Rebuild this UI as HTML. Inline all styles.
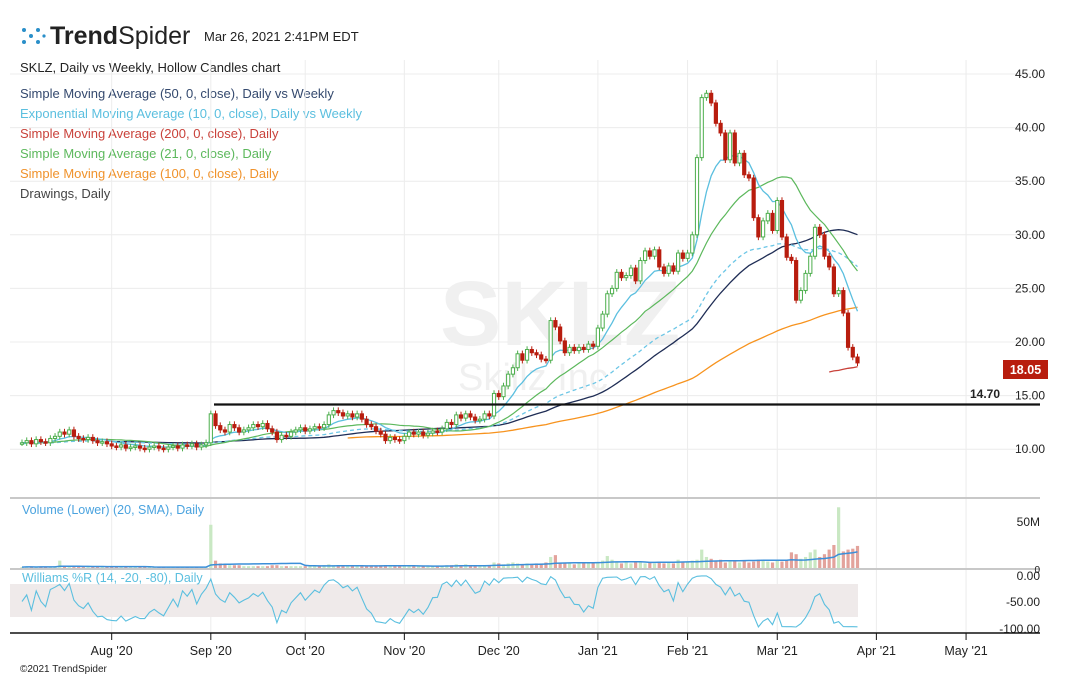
<!DOCTYPE html>
<html><head><meta charset="utf-8"><style>
html,body{margin:0;padding:0;background:#fff;}
svg{display:block;font-family:"Liberation Sans",sans-serif;}
</style></head><body>
<svg id="chart" width="1070" height="679" viewBox="0 0 1070 679" xmlns="http://www.w3.org/2000/svg">
<g>
  <g fill="#2a8fc9">
    <circle cx="24" cy="30" r="2"/><circle cx="31" cy="36" r="2"/><circle cx="24" cy="42" r="2"/><circle cx="38" cy="30" r="2"/><circle cx="38" cy="42" r="2"/><circle cx="44" cy="36" r="1.6"/>
  </g>
  <text x="50" y="44" font-size="25" fill="#222"><tspan font-weight="bold">Trend</tspan>Spider</text>
  <text x="204" y="41" font-size="13" fill="#222">Mar 26, 2021 2:41PM EDT</text>
</g>
<g font-size="13">
  <text x="20" y="72" fill="#222">SKLZ, Daily vs Weekly, Hollow Candles chart</text>
  <text x="20" y="98" fill="#34496e">Simple Moving Average (50, 0, close), Daily vs Weekly</text>
  <text x="20" y="118" fill="#5bbfdf">Exponential Moving Average (10, 0, close), Daily vs Weekly</text>
  <text x="20" y="138" fill="#c9423a">Simple Moving Average (200, 0, close), Daily</text>
  <text x="20" y="158" fill="#5cb85c">Simple Moving Average (21, 0, close), Daily</text>
  <text x="20" y="178" fill="#f0922b">Simple Moving Average (100, 0, close), Daily</text>
  <text x="20" y="198" fill="#444">Drawings, Daily</text>
</g>
<g id="grid"></g>
<g fill="#f0f0f0">
  <text x="440" y="345" font-size="92" font-weight="bold">SKLZ</text>
  <text x="458" y="390" font-size="38">Skillz Inc</text>
</g>
<g id="plot"></g>
<line x1="214" y1="404.5" x2="1040" y2="404.5" stroke="#111" stroke-width="2.2"/>
<text x="970" y="398" font-size="12" font-weight="bold" fill="#222">14.70</text>
<g id="yaxis" font-size="12" fill="#222"></g>
<rect x="1003" y="360" width="45" height="19" fill="#b81d0e"/>
<text x="1025.5" y="374" font-size="12.5" font-weight="bold" fill="#fff" text-anchor="middle">18.05</text>
<line x1="10" y1="498" x2="1040" y2="498" stroke="#c8c8c8" stroke-width="2"/>
<text x="22" y="514" font-size="12.5" fill="#4aa3df">Volume (Lower) (20, SMA), Daily</text>
<g id="vol"></g>
<text x="1040" y="526" font-size="12" fill="#222" text-anchor="end">50M</text>
<line x1="10" y1="569" x2="1040" y2="569" stroke="#c8c8c8" stroke-width="2"/>
<text x="1040" y="573" font-size="10" fill="#222" text-anchor="end">0</text>
<rect x="10" y="584" width="848" height="33" fill="#efeaea"/>
<text x="22" y="582" font-size="12.5" fill="#5bbfdf">Williams %R (14, -20, -80), Daily</text>
<g id="wr"></g>
<g font-size="12" fill="#222" text-anchor="end">
  <text x="1040" y="580">0.00</text>
  <text x="1040" y="606">-50.00</text>
  <text x="1040" y="633">-100.00</text>
</g>
<line x1="10" y1="633" x2="1040" y2="633" stroke="#111" stroke-width="1.5"/>
<g id="xaxis" font-size="12.5" fill="#222"></g>
<text x="20" y="672" font-size="10" fill="#222">©2021 TrendSpider</text>
</svg>
<script>
const priorCloses = [10.4,10.5,10.3,10.6,10.8,10.5,10.7,10.9,10.6,10.4,10.5,10.7,10.6,10.8,10.5,10.4,10.6,10.5,10.7,10.6,10.5,10.4,10.6,10.8,10.7,10.5,10.6,10.7,10.5,10.6];
const closes = [10.6,10.8,10.5,10.9,10.7,10.6,11.0,11.2,11.6,11.4,
11.8,11.2,11.0,10.9,11.1,10.8,10.6,10.7,10.5,10.3,
10.2,10.4,10.1,10.2,10.3,10.1,10.0,10.2,10.3,10.1,
10.0,10.2,10.3,10.1,10.4,10.3,10.5,10.2,10.4,10.6,
13.3,12.2,11.8,11.6,12.3,12.0,11.6,11.8,12.0,12.3,
12.1,12.4,11.9,11.6,10.9,11.3,11.2,11.6,11.8,12.0,
11.7,11.9,12.1,12.0,12.3,13.2,13.6,13.4,13.1,13.3,
13.0,13.3,12.8,12.3,12.1,11.7,11.4,10.8,11.1,10.9,
10.8,11.2,11.6,11.4,11.6,11.3,11.5,11.7,11.6,11.9,
12.5,12.3,13.2,12.9,13.3,13.0,12.7,12.8,13.3,13.1,
15.2,14.9,15.9,17.0,17.6,18.9,18.3,19.3,19.0,18.8,
18.4,18.3,22.0,21.4,20.1,19.0,19.5,19.2,19.5,19.3,
19.8,19.6,21.3,22.6,24.5,25.0,26.5,26.0,26.2,26.9,
25.7,27.6,28.5,28.0,28.6,27.0,26.4,27.1,26.6,28.3,
27.8,28.3,30.0,37.2,42.8,43.2,42.3,40.4,39.5,37.0,
39.5,36.7,37.6,35.6,35.3,31.6,29.8,31.3,32.0,30.4,
33.2,29.8,27.9,27.6,23.9,24.8,26.4,28.0,30.7,30.0,
28.0,27.0,24.5,24.8,22.7,19.5,18.6,18.05];
const volumes = [1,1.5,1,1,1.5,1,1,2,8,2,
1.5,1,1,1,1,1,1,1,1,1,
1,1,1,1,1,1,1,1,1,1,
1,1,1,1,1,1,1,1,1,1,
47,8,5,4,3,3,3,2,2,2,
2,2,2,3,3,2,2,2,2,2,
2,2,2,2,3,4,3,3,2,2,
2,2,2,2,2,2,3,3,2,2,
2,2,2,2,2,2,2,2,2,2,
3,3,4,3,4,3,3,3,3,3,
6,5,4,5,6,5,4,5,4,5,
5,6,12,14,6,5,5,4,5,5,
5,5,6,8,13,9,6,5,6,5,
7,6,5,6,5,7,5,6,5,9,
6,7,8,9,20,12,10,8,9,6,
7,8,6,8,6,7,9,8,7,6,
8,7,9,17,15,10,12,17,20,12,
15,20,25,66,18,20,21,24];
const sma200Tail = [17.2,17.3,17.35,17.45,17.55,17.6,17.7];
const priceTicks = [10,15,20,25,30,35,40,45];
const priceTickLabels = ["10.00","15.00","20.00","25.00","30.00","35.00","40.00","45.00"];
const monthLabels = ["Aug '20","Sep '20","Oct '20","Nov '20","Dec '20","Jan '21","Feb '21","Mar '21","Apr '21","May '21"];
const monthOffsets = [19,40,60,81,101,122,141,160,181,200]; // bar index (trading days) of month start

const NS="http://www.w3.org/2000/svg";
const N=closes.length;
const step=(857.5-22)/(N-1);
const xB=i=>22+i*step;
const yP=p=>74+(45-p)*10.72;
const yV=v=>568-v*0.92;
const yW=w=>575-w*0.53;
function mk(tag,attrs,parent){const e=document.createElementNS(NS,tag);for(const k in attrs)e.setAttribute(k,attrs[k]);parent.appendChild(e);return e;}

const grid=document.getElementById('grid');
priceTicks.forEach((p,k)=>{
  const l=mk('line',{x1:10,x2:1040,y1:yP(p),y2:yP(p),stroke:'#ececec','stroke-width':1},grid);
  
  
  const t=mk('text',{x:1045,y:yP(p)+4,'text-anchor':'end'},document.getElementById('yaxis'));
  t.textContent=priceTickLabels[k];
  
  
});
const xa=document.getElementById('xaxis');
monthOffsets.forEach((m,k)=>{
  const x=xB(m);
  const l=mk('line',{x1:x,x2:x,y1:60,y2:632,stroke:'#ececec','stroke-width':1},grid);
  
  
  const tk=mk('line',{x1:x,x2:x,y1:633,y2:640,stroke:'#111','stroke-width':1},xa);
  
  
  const t=mk('text',{x:x,y:655,'text-anchor':'middle'},xa);
  t.textContent=monthLabels[k];
  
  
});

const all=priorCloses.concat(closes);
const P=priorCloses.length;
function sma(n){return closes.map((c,i)=>{const j=i+P;if(j<n-1)return null;let s=0;for(let k=j-n+1;k<=j;k++)s+=all[k];return s/n;});}
function ema(n){const a=2/(n+1);let e=all[0];const out=[];all.forEach((c,j)=>{e=j?a*c+(1-a)*e:c;if(j>=P)out.push(e);});return out;}
const plot=document.getElementById('plot');
function line(vals,color,w,name,dash,offset){
  offset=offset||0;let d='';
  vals.forEach((v,i)=>{if(v==null)return;d+=(d?'L':'M')+xB(i+offset).toFixed(1)+','+yP(v).toFixed(1);});
  const p=mk('path',{d:d,fill:'none',stroke:color,'stroke-width':w},plot);
  if(dash)p.setAttribute('stroke-dasharray',dash);
  
  
}
line(sma(100),'#f7931e',1.3,'sma100-line');
line(sma(50),'#1f2d55',1.3,'sma50-line');
line(ema(50),'#6cc6e6',1.3,'ema-weekly-dashed-line','4,3');
line(sma(21),'#5cb85c',1.2,'sma21-line');
line(ema(10),'#5bbfdf',1.3,'ema10-line');
line(sma200Tail,'#c9423a',1.3,'sma200-line',null,N-sma200Tail.length);

const opens=closes.map((c,i)=>i?closes[i-1]:c);
const highs=closes.map((c,i)=>Math.max(c,opens[i])+0.3);
const lows=closes.map((c,i)=>Math.min(c,opens[i])-0.3);
closes.forEach((c,i)=>{
  const o=opens[i],up=c>=o,col=up?'#4cae4c':'#b81d0e',x=xB(i);
  const g=mk('g',{},plot);
  
  
  mk('line',{x1:x,x2:x,y1:yP(highs[i]),y2:yP(lows[i]),stroke:col,'stroke-width':1},g);
  const top=yP(Math.max(o,c)),h=Math.max(1.5,yP(Math.min(o,c))-top);
  mk('rect',{x:x-1.6,y:top,width:3.2,height:h,fill:up?'#fff':col,stroke:col,'stroke-width':1},g);
});

const vol=document.getElementById('vol');
volumes.forEach((v,i)=>{
  const up=closes[i]>=opens[i];
  const r=mk('rect',{x:xB(i)-1.6,y:yV(v),width:3.2,height:568-yV(v),fill:up?'#c9e8c3':'#e3a39c'},vol);
  
  
});
let vd='';
volumes.forEach((v,i)=>{const a=volumes.slice(Math.max(0,i-19),i+1);const m=a.reduce((s,x)=>s+x,0)/a.length;vd+=(i?'L':'M')+xB(i).toFixed(1)+','+yV(m).toFixed(1);});
const vl=mk('path',{d:vd,fill:'none',stroke:'#3b8fd9','stroke-width':1.5},vol);



const wr=document.getElementById('wr');
let wd='';
closes.forEach((c,i)=>{
  const s=Math.max(0,i-13);
  const hh=Math.max(...highs.slice(s,i+1)),ll=Math.min(...lows.slice(s,i+1));
  const w=(hh-c)/(hh-ll)*-100;
  wd+=(i?'L':'M')+xB(i).toFixed(1)+','+yW(w).toFixed(1);
});
const wl=mk('path',{d:wd,fill:'none',stroke:'#5bbfdf','stroke-width':1.1},wr);


</script>
</body></html>
